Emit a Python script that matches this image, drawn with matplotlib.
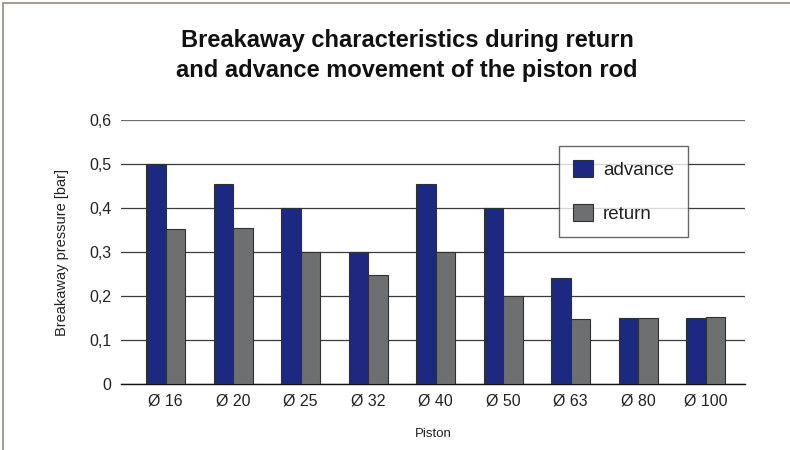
import matplotlib
matplotlib.use("Agg")
import matplotlib.pyplot as plt
from matplotlib.lines import Line2D
import numpy as np

plt.rcParams['font.family'] = ['Liberation Sans', 'DejaVu Sans']

pistons = ["Ø 16", "Ø 20", "Ø 25", "Ø 32", "Ø 40", "Ø 50", "Ø 63", "Ø 80", "Ø 100"]
advance = [0.50, 0.455, 0.40, 0.30, 0.455, 0.40, 0.24, 0.15, 0.15]
ret = [0.353, 0.355, 0.30, 0.248, 0.30, 0.20, 0.148, 0.15, 0.152]
yticks = [0, 0.1, 0.2, 0.3, 0.4, 0.5, 0.6]
ytick_labels = ["0", "0,1", "0,2", "0,3", "0,4", "0,5", "0,6"]

W, H = 790, 450
fig = plt.figure(figsize=(W / 100, H / 100), dpi=100)
ax = fig.add_axes([121 / W, 1 - 384 / H, 624 / W, 264 / H])

x = np.arange(len(pistons))
bw = 0.29
c_adv = "#1b2a80"
c_ret = "#6e6f71"
edge = "#303030"
ax.bar(x - bw / 2, advance, bw, color=c_adv, edgecolor=edge, linewidth=0.8,
       label="advance", zorder=3)
ax.bar(x + bw / 2, ret, bw, color=c_ret, edgecolor=edge, linewidth=0.8,
       label="return", zorder=3)

ax.set_xlim(-0.662, 8.58)
ax.set_ylim(0, 0.6)
ax.set_yticks(yticks)
ax.set_yticklabels(ytick_labels, fontsize=11.5, color="#222222")
ax.set_xticks(x)
ax.set_xticklabels(pistons, fontsize=11.5, color="#222222")
ax.tick_params(axis="both", length=0)
ax.tick_params(axis="y", pad=7)
ax.tick_params(axis="x", pad=7)
ax.yaxis.grid(True, color="#3a3a3a", linewidth=0.9, zorder=0)
ax.get_ygridlines()[-1].set_color("#6a6a6a")
ax.set_axisbelow(True)
for s in ("left", "right", "top"):
    ax.spines[s].set_visible(False)
ax.spines["bottom"].set_color("#111111")
ax.spines["bottom"].set_linewidth(1.0)

ax.set_ylabel("Breakaway pressure [bar]", fontsize=10.5, color="#222222")
ax.yaxis.set_label_coords(-(121 - 69) / 624, 0.5)
ax.set_xlabel("Piston", fontsize=9.5, color="#222222", labelpad=14)

leg = ax.legend(loc="upper left", bbox_to_anchor=((559 - 121) / 624, 1 - (146 - 120) / 264),
                frameon=True, fancybox=False, fontsize=13.5, labelspacing=1.3,
                handlelength=1.05, handleheight=1.05, handletextpad=0.55,
                borderpad=0.75, borderaxespad=0)
leg.get_frame().set_edgecolor("#444444")
leg.get_frame().set_linewidth(1.0)
leg.set_zorder(5)
for t in leg.get_texts():
    t.set_color("#222222")

fig.text(407 / W, 1 - 40 / H, "Breakaway characteristics during return",
         ha="center", va="center", fontsize=17, fontweight="bold", color="#111111")
fig.text(407 / W, 1 - 70 / H, "and advance movement of the piston rod",
         ha="center", va="center", fontsize=17, fontweight="bold", color="#111111")

# frame lines along the top and left edges
fig.add_artist(Line2D([3 / W, 3 / W], [0, 1 - 3 / H], transform=fig.transFigure,
                      color="#a59f90", linewidth=1.5))
fig.add_artist(Line2D([3 / W, 1], [1 - 3 / H, 1 - 3 / H], transform=fig.transFigure,
                      color="#a59f90", linewidth=1.5))

fig.savefig("out.png", dpi=100)
